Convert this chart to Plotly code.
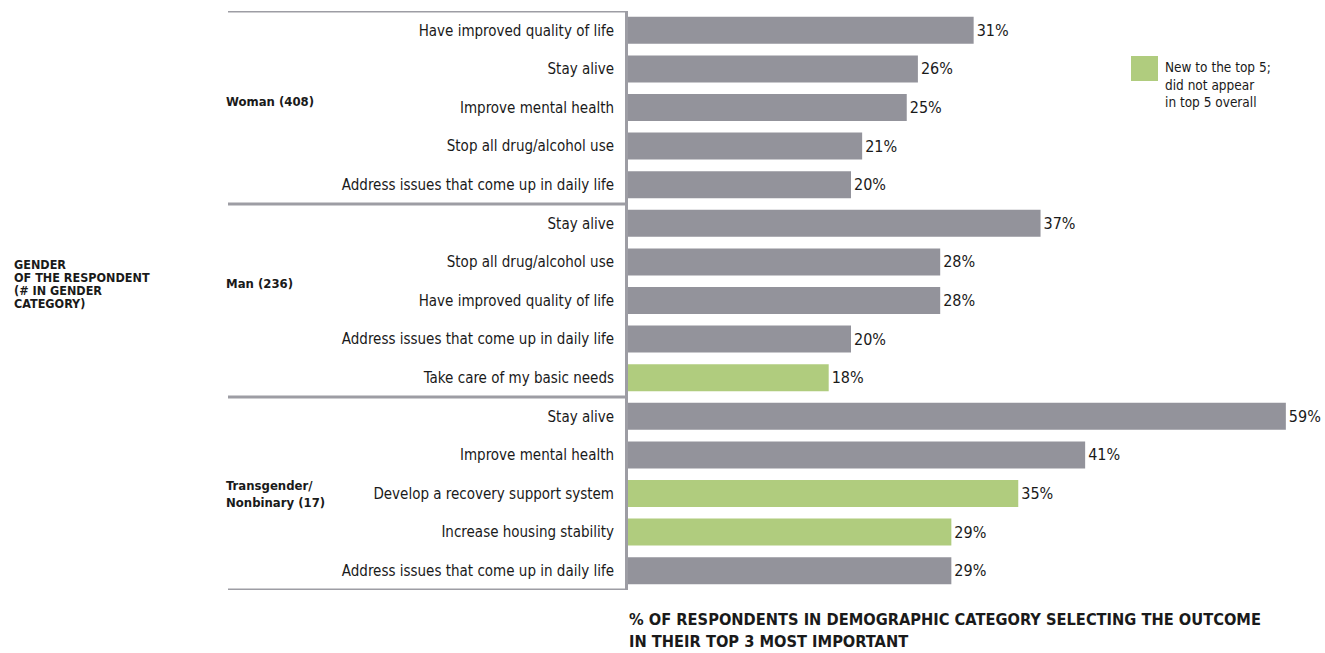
import plotly.graph_objects as go

# ---- data ----
groups = ["Woman (408)", "Man (236)", "Transgender/<br>Nonbinary (17)"]
outcomes = [
    "Have improved quality of life", "Stay alive", "Improve mental health",
    "Stop all drug/alcohol use", "Address issues that come up in daily life",
    "Stay alive", "Stop all drug/alcohol use", "Have improved quality of life",
    "Address issues that come up in daily life", "Take care of my basic needs",
    "Stay alive", "Improve mental health", "Develop a recovery support system",
    "Increase housing stability", "Address issues that come up in daily life",
]
values = [31, 26, 25, 21, 20, 37, 28, 28, 20, 18, 59, 41, 35, 29, 29]
new_to_top5 = [False, False, False, False, False,
               False, False, False, False, True,
               False, False, True, True, False]
group_sizes = [5, 5, 5]

GREY = "#93939b"
GREEN = "#b0cc7e"
LINE = "#9d9da4"
TEXT = "#1a1a1a"
FONT = "DejaVu Sans Condensed, Liberation Sans Narrow, sans-serif"

rows = list(range(len(outcomes)))
colors = [GREEN if n else GREY for n in new_to_top5]

fig = go.Figure()
fig.add_trace(go.Bar(
    x=values, y=rows, orientation="h",
    marker=dict(color=colors, line=dict(width=0)),
    width=0.70,
    text=[f"{v}%" for v in values], textposition="outside",
    textfont=dict(family=FONT, size=16, color=TEXT),
    cliponaxis=False, showlegend=False, hoverinfo="skip",
))

# group separators
bounds = [-0.5]
for s in group_sizes:
    bounds.append(bounds[-1] + s)
shapes = []
for b in bounds:
    shapes.append(dict(type="line", xref="paper", xsizemode="pixel", xanchor=0,
                       x0=-400, x1=0, yref="y", y0=b, y1=b,
                       line=dict(color=LINE, width=3)))
# legend swatch
shapes.append(dict(type="rect", xref="paper", yref="paper",
                   xsizemode="pixel", ysizemode="pixel", xanchor=0, yanchor=1,
                   x0=503, x1=530, y0=-45, y1=-70,
                   fillcolor=GREEN, line=dict(width=0)))

annotations = []
# group labels
group_label_rows = [1.85, 6.55, 12.0]
for g, r in zip(groups, group_label_rows):
    annotations.append(dict(text=f"<b>{g}</b>", xref="paper", x=-404/689, xanchor="left",
                            yref="y", y=r, yanchor="middle", showarrow=False, align="left",
                            font=dict(family=FONT, size=13, color=TEXT)))
# left title
title_lines = ["GENDER", "OF THE RESPONDENT", "(# IN GENDER", "CATEGORY)"]
for i, t in enumerate(title_lines):
    annotations.append(dict(text=f"<b>{t}</b>", xref="paper", x=-616/689, xanchor="left",
                            yref="paper", y=1 - (264 + 13.2 * i - 11) / 579, yanchor="middle",
                            showarrow=False, font=dict(family=FONT, size=12.5, color=TEXT)))
# x axis title
xt_lines = ["% OF RESPONDENTS IN DEMOGRAPHIC CATEGORY SELECTING THE OUTCOME",
            "IN THEIR TOP 3 MOST IMPORTANT"]
for i, t in enumerate(xt_lines):
    annotations.append(dict(text=f"<b>{t}</b>", xref="paper", x=-1/689, xanchor="left",
                            yref="paper", y=1 - (619 + 22 * i - 11) / 579, yanchor="middle",
                            showarrow=False, font=dict(family=FONT, size=16.3, color=TEXT)))
# legend text
annotations.append(dict(text="New to the top 5;<br>did not appear<br>in top 5 overall",
                        xref="paper", x=535 / 689, xanchor="left",
                        yref="paper", y=1 - (57 - 11) / 579, yanchor="top",
                        showarrow=False, align="left",
                        font=dict(family=FONT, size=13.5, color=TEXT)))

fig.update_layout(
    width=1325, height=653,
    margin=dict(l=628, r=8, t=11, b=63),
    plot_bgcolor="white", paper_bgcolor="white",
    bargap=0.3,
    shapes=shapes, annotations=annotations,
    xaxis=dict(range=[0, 689 / 11.15], showgrid=False, zeroline=False,
               showticklabels=False, showline=False, fixedrange=True),
    yaxis=dict(range=[14.5, -0.5], tickvals=rows, ticktext=outcomes,
               showgrid=False, zeroline=False, ticks="",
               showline=True, linecolor=LINE, linewidth=3,
               ticklabelstandoff=8,
               tickfont=dict(family=FONT, size=15, color=TEXT), fixedrange=True),
    font=dict(family=FONT, color=TEXT),
)

fig.write_html("out.html")
